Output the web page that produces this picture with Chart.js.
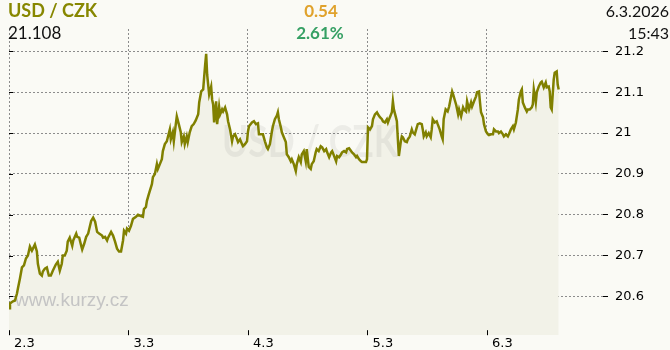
<!DOCTYPE html>
<html>
<head>
    <title>USD / CZK</title>
    <meta charset="utf-8" />
    <script src="https://cdn.jsdelivr.net/npm/chart.js"></script>
    <style>
        body {
            margin: 0;
            padding: 0;
            background: #fafaf5;
            font-family: Lato, "Open Sans", sans-serif;
        }

        #wrap {
            position: relative;
            width: 670px;
            height: 350px;
        }

        #graf {
            position: absolute;
            left: 0;
            top: 0;
        }

        .hlav {
            position: absolute;
            font-size: 16px;
            line-height: 18px;
            white-space: nowrap;
            z-index: 2;
        }
    </style>
</head>
<body>
    <div id="wrap">
        <canvas id="graf" width="670" height="350"></canvas>
        <div class="hlav" style="left:8px; top:1px; font-size:18px; font-weight:bold; color:#878700;">USD / CZK</div>
        <div class="hlav" style="left:8px; top:24px; font-size:17px; color:#111;">21.108</div>
        <div class="hlav" style="left:221px; width:200px; top:2px; text-align:center; font-size:17px; font-weight:bold; color:#e0a22c;">0.54</div>
        <div class="hlav" style="left:220px; width:200px; top:24px; text-align:center; font-size:17px; font-weight:bold; color:#36a064;">2.61%</div>
        <div class="hlav" style="right:1px; top:2px; color:#111;">6.3.2026</div>
        <div class="hlav" style="right:1px; top:24px; color:#111;">15:43</div>
    </div>

    <script>
        // osa x: hodiny od 2.3. 00:00
        const dnyPozice = [0, 24, 48, 72, 96];
        const dnyPopisky = ["2.3", "3.3", "4.3", "5.3", "6.3"];
        const kurzTicks = [20.6, 20.7, 20.8, 20.9, 21.0, 21.1, 21.2];

        const hodiny = [
            0.0, 0.2, 0.8, 1.2, 1.6, 1.8, 2.2, 2.6, 3.0, 3.4, 3.8, 4.2, 4.6, 4.8, 5.2, 5.6, 5.8, 6.2, 6.6, 6.8,
            7.2, 7.6, 8.0, 8.4, 8.8, 9.4, 9.8, 10.2, 10.6, 10.8, 11.2, 11.6, 11.8, 12.2, 12.7, 12.9, 13.5, 13.7, 14.1, 14.5,
            14.7, 15.1, 15.5, 15.9, 16.5, 16.9, 17.3, 17.7, 18.1, 18.7, 18.9, 19.3, 19.7, 19.9, 20.5, 20.9, 21.3, 21.7, 22.1, 22.5,
            22.9, 23.1, 23.5, 23.7, 24.1, 24.5, 24.9, 25.5, 25.9, 26.5, 26.9, 27.1, 27.5, 27.7, 28.1, 28.7, 28.9, 29.3, 29.7, 29.9,
            30.3, 30.7, 30.9, 31.3, 31.7, 31.9, 32.3, 32.5, 32.9, 33.1, 33.5, 33.7, 34.1, 34.5, 34.7, 35.1, 35.3, 35.7, 35.9, 36.3,
            36.7, 37.1, 37.5, 38.0, 38.2, 38.6, 39.0, 39.2, 39.4, 39.6, 39.8, 40.0, 40.2, 40.6, 40.8, 41.0, 41.2, 41.6, 41.8, 42.2,
            42.4, 42.8, 43.0, 43.4, 43.8, 44.0, 44.4, 44.8, 45.0, 45.4, 45.8, 46.0, 46.4, 46.8, 47.0, 47.4, 47.8, 48.0, 48.2, 48.8,
            49.2, 49.6, 50.0, 50.2, 50.6, 51.0, 51.4, 51.8, 52.0, 52.4, 52.8, 53.0, 53.4, 53.8, 54.0, 54.2, 54.6, 54.8, 55.2, 55.6,
            55.8, 56.2, 56.6, 56.8, 57.2, 57.6, 57.8, 58.2, 58.6, 58.8, 59.2, 59.6, 59.8, 60.2, 60.6, 60.8, 61.2, 61.6, 61.8, 62.2,
            62.6, 62.9, 63.3, 63.7, 63.9, 64.3, 64.7, 64.9, 65.3, 65.7, 65.9, 66.3, 66.7, 66.9, 67.3, 67.7, 67.9, 68.3, 68.7, 68.9,
            69.3, 69.7, 69.9, 70.3, 70.7, 70.9, 71.3, 71.7, 71.9, 72.1, 72.5, 72.9, 73.1, 73.5, 73.9, 74.1, 74.5, 74.9, 75.1, 75.5,
            75.9, 76.1, 76.5, 76.9, 77.1, 77.3, 77.7, 77.9, 78.1, 78.3, 78.7, 78.9, 79.1, 79.5, 79.9, 80.1, 80.5, 80.9, 81.1, 81.5,
            81.9, 82.1, 82.5, 82.9, 83.1, 83.3, 83.7, 83.9, 84.3, 84.7, 84.9, 85.1, 85.5, 85.9, 86.1, 86.5, 86.9, 87.1, 87.3, 87.7,
            88.1, 88.4, 88.8, 89.0, 89.2, 89.6, 89.8, 90.2, 90.4, 90.8, 91.2, 91.4, 91.8, 92.0, 92.4, 92.8, 93.0, 93.4, 93.8, 94.0,
            94.4, 94.6, 94.8, 95.2, 95.4, 95.8, 96.2, 96.4, 96.8, 97.2, 97.4, 97.8, 98.2, 98.4, 98.8, 99.2, 99.4, 99.8, 100.2, 100.4,
            100.8, 101.2, 101.4, 101.8, 102.2, 102.4, 102.8, 103.0, 103.2, 103.6, 104.0, 104.2, 104.6, 105.0, 105.2, 105.4, 105.8, 106.0, 106.4, 106.8,
            107.0, 107.4, 107.8, 108.0, 108.4, 108.6, 108.8, 109.0, 109.4, 109.6, 110.0, 110.2, 110.4
        ];

        const kurzy = [
            20.571, 20.583, 20.588, 20.590, 20.607, 20.620, 20.644, 20.671, 20.676, 20.693, 20.700, 20.722, 20.712, 20.717, 20.727, 20.710, 20.680, 20.656, 20.651, 20.661,
            20.668, 20.671, 20.651, 20.651, 20.663, 20.678, 20.685, 20.663, 20.680, 20.700, 20.700, 20.712, 20.734, 20.744, 20.724, 20.737, 20.754, 20.746, 20.744, 20.724,
            20.715, 20.729, 20.746, 20.754, 20.785, 20.793, 20.783, 20.758, 20.754, 20.749, 20.744, 20.746, 20.737, 20.744, 20.758, 20.749, 20.734, 20.717, 20.710, 20.710,
            20.737, 20.761, 20.754, 20.766, 20.761, 20.773, 20.790, 20.795, 20.800, 20.797, 20.795, 20.814, 20.819, 20.834, 20.851, 20.875, 20.892, 20.900, 20.924, 20.912,
            20.924, 20.936, 20.956, 20.973, 20.980, 20.990, 21.009, 20.985, 21.002, 20.980, 21.022, 21.041, 21.022, 21.002, 20.978, 20.992, 20.973, 20.992, 20.978, 21.002,
            21.017, 21.022, 21.031, 21.046, 21.075, 21.102, 21.107, 21.138, 21.168, 21.194, 21.143, 21.119, 21.095, 21.114, 21.082, 21.070, 21.026, 21.078, 21.022, 21.065,
            21.046, 21.058, 21.053, 21.063, 21.046, 21.029, 21.009, 20.980, 20.992, 20.997, 20.985, 20.978, 20.985, 20.973, 20.968, 20.973, 20.980, 21.004, 21.017, 21.026,
            21.029, 21.022, 21.024, 20.997, 20.997, 20.997, 20.980, 20.965, 20.961, 20.973, 21.004, 21.017, 21.034, 21.043, 21.051, 21.034, 21.014, 21.002, 20.990, 20.978,
            20.948, 20.941, 20.931, 20.936, 20.924, 20.907, 20.924, 20.941, 20.929, 20.948, 20.956, 20.931, 20.961, 20.917, 20.912, 20.924, 20.931, 20.953, 20.961, 20.956,
            20.968, 20.965, 20.956, 20.961, 20.953, 20.941, 20.953, 20.956, 20.944, 20.931, 20.944, 20.941, 20.948, 20.953, 20.956, 20.953, 20.961, 20.963, 20.956, 20.953,
            20.948, 20.941, 20.944, 20.936, 20.931, 20.929, 20.929, 20.929, 20.936, 21.014, 21.009, 21.017, 21.034, 21.046, 21.051, 21.046, 21.039, 21.034, 21.029, 21.026,
            21.034, 21.026, 21.039, 21.051, 21.078, 21.058, 21.039, 21.029, 20.985, 20.944, 20.980, 20.992, 20.990, 20.980, 20.978, 20.985, 20.992, 21.009, 21.002, 20.997,
            21.014, 21.022, 21.024, 21.022, 21.009, 20.992, 21.002, 20.992, 21.000, 20.990, 21.009, 21.034, 21.026, 21.029, 21.022, 21.009, 20.992, 20.985, 21.034, 21.058,
            21.053, 21.065, 21.090, 21.102, 21.095, 21.078, 21.070, 21.046, 21.058, 21.041, 21.063, 21.058, 21.053, 21.078, 21.058, 21.075, 21.065, 21.078, 21.090, 21.100,
            21.102, 21.075, 21.051, 21.039, 21.022, 21.004, 20.997, 20.995, 20.997, 20.997, 21.009, 21.004, 21.004, 21.000, 21.004, 20.997, 20.992, 20.997, 20.992, 20.997,
            21.009, 21.017, 21.009, 21.026, 21.058, 21.082, 21.102, 21.107, 21.075, 21.063, 21.053, 21.058, 21.058, 21.063, 21.070, 21.107, 21.075, 21.100, 21.114, 21.124,
            21.126, 21.112, 21.124, 21.112, 21.114, 21.102, 21.063, 21.058, 21.131, 21.148, 21.151, 21.119, 21.107
        ];

        const body = hodiny.map((h, i) => ({ x: h, y: kurzy[i] }));

        // vodoznaky a kratke znacky os
        const vodoznak = {
            id: "vodoznak",
            beforeDatasetsDraw(chart) {
                const ctx = chart.ctx;
                ctx.save();
                ctx.fillStyle = "rgba(0,0,0,0.055)";
                ctx.font = "bold 44px Lato";
                ctx.textAlign = "center";
                ctx.textBaseline = "alphabetic";
                ctx.fillText("USD / CZK", 310, 157, 176);
                ctx.fillStyle = "#c4c4c4";
                ctx.font = "19px 'Liberation Sans'";
                ctx.textAlign = "left";
                ctx.fillText("www.kurzy.cz", 15, 306);
                ctx.restore();
            },
            afterDraw(chart) {
                const ctx = chart.ctx;
                const a = chart.chartArea;
                const sx = chart.scales.x;
                const sy = chart.scales.y;
                ctx.save();
                ctx.strokeStyle = "#000";
                ctx.lineWidth = 1;
                ctx.beginPath();
                kurzTicks.forEach(v => {
                    const y = Math.round(sy.getPixelForValue(v)) + 0.5;
                    ctx.moveTo(a.left, y);
                    ctx.lineTo(a.left + 4, y);
                });
                dnyPozice.forEach(h => {
                    const x = Math.round(sx.getPixelForValue(h)) + 0.5;
                    ctx.moveTo(x, a.bottom - 5);
                    ctx.lineTo(x, a.bottom);
                });
                ctx.stroke();
                ctx.restore();
            }
        };

        new Chart(document.getElementById("graf"), {
            type: "line",
            data: {
                datasets: [{
                    data: body,
                    borderColor: "#808000",
                    borderWidth: 2.5,
                    pointRadius: 0,
                    tension: 0,
                    fill: "start",
                    backgroundColor: "#f2f2e8"
                }]
            },
            options: {
                responsive: false,
                animation: false,
                devicePixelRatio: 1,
                layout: { padding: { left: 9, top: 29, right: 0, bottom: 0 } },
                plugins: {
                    legend: { display: false },
                    tooltip: { enabled: false },
                    filler: { drawTime: "beforeDatasetsDraw" }
                },
                scales: {
                    x: {
                        type: "linear",
                        min: 0,
                        max: 119.3,
                        afterBuildTicks: s => { s.ticks = dnyPozice.map(v => ({ value: v })); },
                        afterFit: s => { s.height = 13; },
                        grid: { color: "#8c8c8c", drawTicks: false },
                        border: { display: false, dash: [2, 2] },
                        ticks: {
                            callback: (v) => dnyPopisky[dnyPozice.indexOf(v)],
                            align: "start",
                            labelOffset: 5,
                            padding: 1,
                            maxRotation: 0,
                            color: "#000",
                            font: { family: "DejaVu Sans", size: 13 }
                        }
                    },
                    y: {
                        position: "right",
                        min: 20.505,
                        max: 21.255,
                        afterBuildTicks: s => { s.ticks = kurzTicks.map(v => ({ value: v })); },
                        afterFit: s => { s.width = 67; },
                        grid: {
                            color: "#8c8c8c",
                            tickLength: 5,
                            tickColor: "#000",
                            tickBorderDash: []
                        },
                        border: { display: false, dash: [2, 2] },
                        ticks: {
                            callback: v => String(Math.round(v * 10) / 10),
                            padding: 7,
                            color: "#000",
                            font: { family: "DejaVu Sans", size: 13 }
                        }
                    }
                }
            },
            plugins: [vodoznak]
        });
    </script>
</body>
</html>
